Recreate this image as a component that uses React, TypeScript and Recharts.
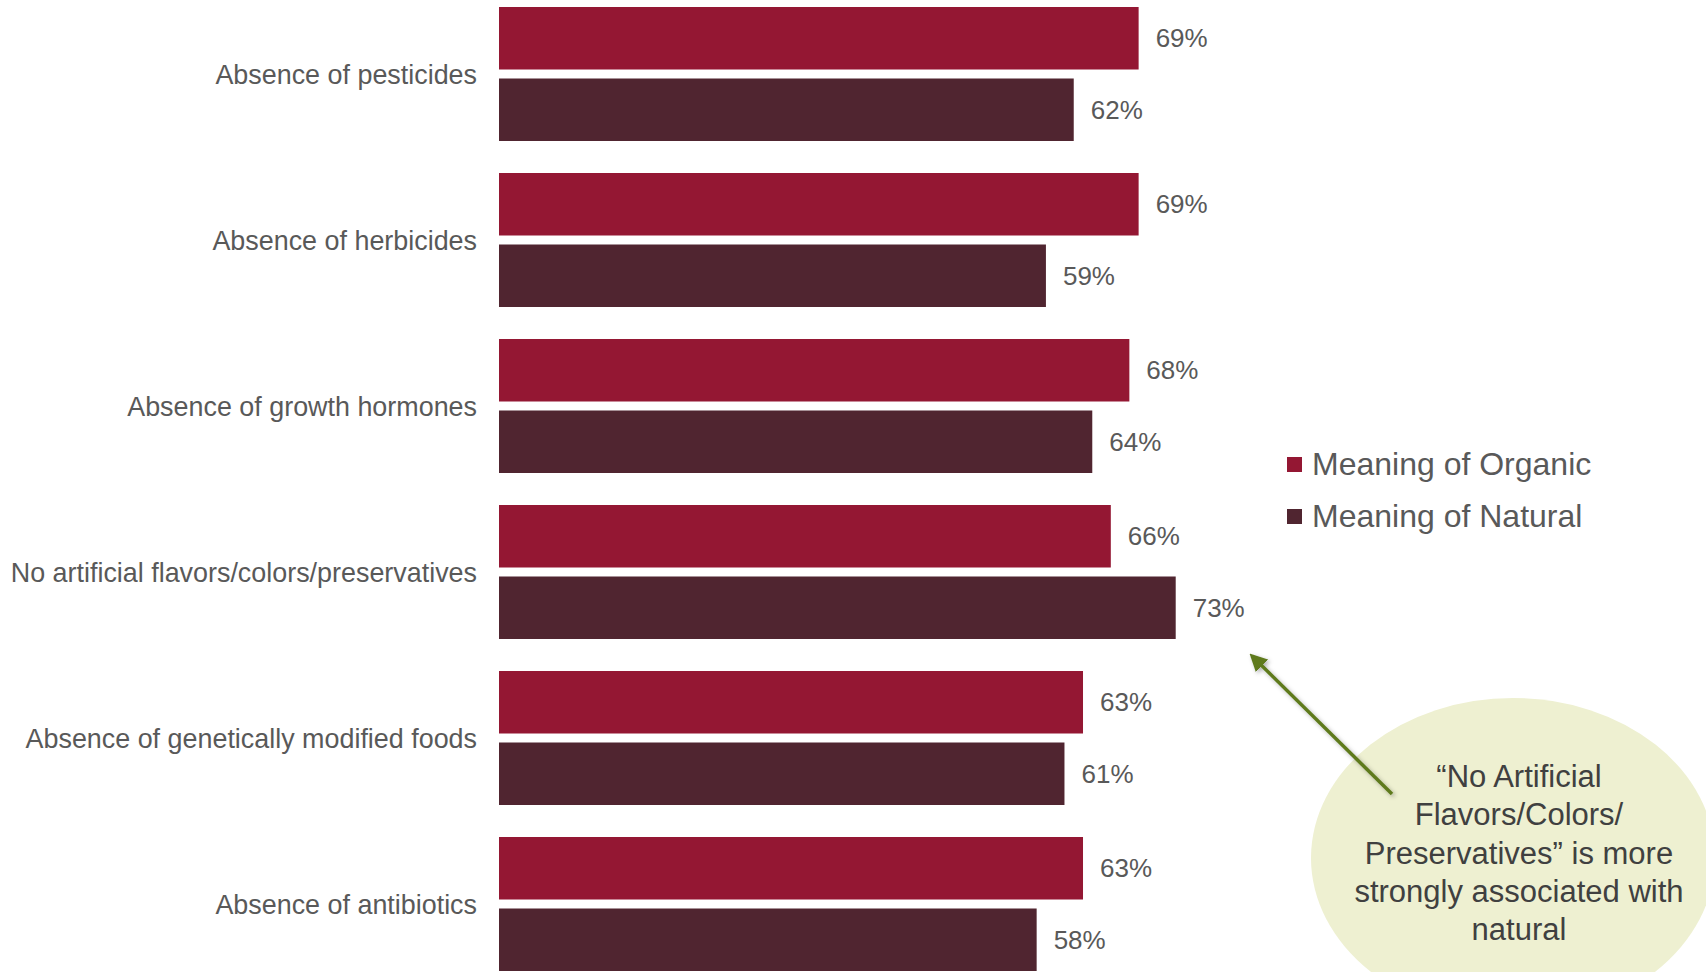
import React from 'react';
import { BarChart, Bar, XAxis, YAxis, LabelList } from 'recharts';

const categories = [
  'Absence of pesticides',
  'Absence of herbicides',
  'Absence of growth hormones',
  'No artificial flavors/colors/preservatives',
  'Absence of genetically modified foods',
  'Absence of antibiotics',
];
const organicValues = [69, 69, 68, 66, 63, 63];
const naturalValues = [62, 59, 64, 73, 61, 58];

const seriesNames = ['Meaning of Organic', 'Meaning of Natural'];

const calloutLines = [
  '\u201CNo Artificial',
  'Flavors/Colors/',
  'Preservatives\u201D is more',
  'strongly associated with',
  'natural',
];

const FONT = '"Liberation Sans", Arial, sans-serif';
const ORGANIC = '#941733';
const NATURAL = '#502530';
const TEXT = '#595959';
const seriesColors = [ORGANIC, NATURAL];

const data = categories.map((label, i) => ({
  label,
  organic: organicValues[i],
  natural: naturalValues[i],
}));

// legend rows with small squares, placed right of the bars
const LegendBox = () => (
  <div style={{ position: 'absolute', left: 1287, top: 438, fontFamily: FONT }}>
    {seriesNames.map((name, i) => (
      <div key={name} style={{ display: 'flex', alignItems: 'center', height: 52 }}>
        <span style={{ width: 15, height: 15, background: seriesColors[i], marginRight: 10, display: 'inline-block' }} />
        <span style={{ fontSize: 32, color: TEXT }}>{name}</span>
      </div>
    ))}
  </div>
);

const Callout = () => (
  <svg width={1706} height={972} style={{ position: 'absolute', left: 0, top: 0, pointerEvents: 'none' }}>
    <defs>
      <marker id="head" viewBox="0 0 10 10" refX="8" refY="5" markerWidth="5" markerHeight="5" orient="auto">
        <path d="M0,0 L10,5 L0,10 z" fill="#5E7A1F" />
      </marker>
      <filter id="shadow" x="-20%" y="-20%" width="140%" height="140%">
        <feDropShadow dx="2" dy="2" stdDeviation="2" floodColor="#000" floodOpacity="0.3" />
      </filter>
    </defs>
    <ellipse cx={1513} cy={858} rx={202} ry={160} fill="#EEF0D1" />
    <line x1={1392} y1={794} x2={1252} y2={656} stroke="#5E7A1F" strokeWidth={3.5} markerEnd="url(#head)" filter="url(#shadow)" />
    <text fontFamily={FONT} fontSize={31} fill="#404040" textAnchor="middle">
      {calloutLines.map((line, i) => (
        <tspan key={i} x={1519} y={787 + i * 38.3}>{line}</tspan>
      ))}
    </text>
  </svg>
);

export default function App() {
  return (
    <div style={{ position: 'fixed', left: 0, top: 0, width: 1706, height: 972, overflow: 'hidden', background: '#fff' }}>
      <div style={{ position: 'absolute', left: 0, top: -11 }}>
        <BarChart
          layout="vertical"
          width={1706}
          height={1000}
          data={data}
          margin={{ top: 2, right: 280, left: 0, bottom: 2 }}
          barSize={62.5}
          barGap={9}
        >
          <XAxis type="number" domain={[0, 100]} hide />
          <YAxis
            type="category"
            dataKey="label"
            width={499}
            axisLine={false}
            tickLine={false}
            tickSize={0}
            tickMargin={22}
            interval={0}
            tick={{ fontSize: 26.9, fill: TEXT, fontFamily: FONT }}
          />
          <Bar dataKey="organic" name={seriesNames[0]} fill={ORGANIC} isAnimationActive={false}>
            <LabelList dataKey="organic" position="right" offset={17} formatter={(v: any) => `${v}%`}
              style={{ fontSize: 26, fill: TEXT, fontFamily: FONT }} />
          </Bar>
          <Bar dataKey="natural" name={seriesNames[1]} fill={NATURAL} isAnimationActive={false}>
            <LabelList dataKey="natural" position="right" offset={17} formatter={(v: any) => `${v}%`}
              style={{ fontSize: 26, fill: TEXT, fontFamily: FONT }} />
          </Bar>
        </BarChart>
      </div>
      <LegendBox />
      <Callout />
    </div>
  );
}
